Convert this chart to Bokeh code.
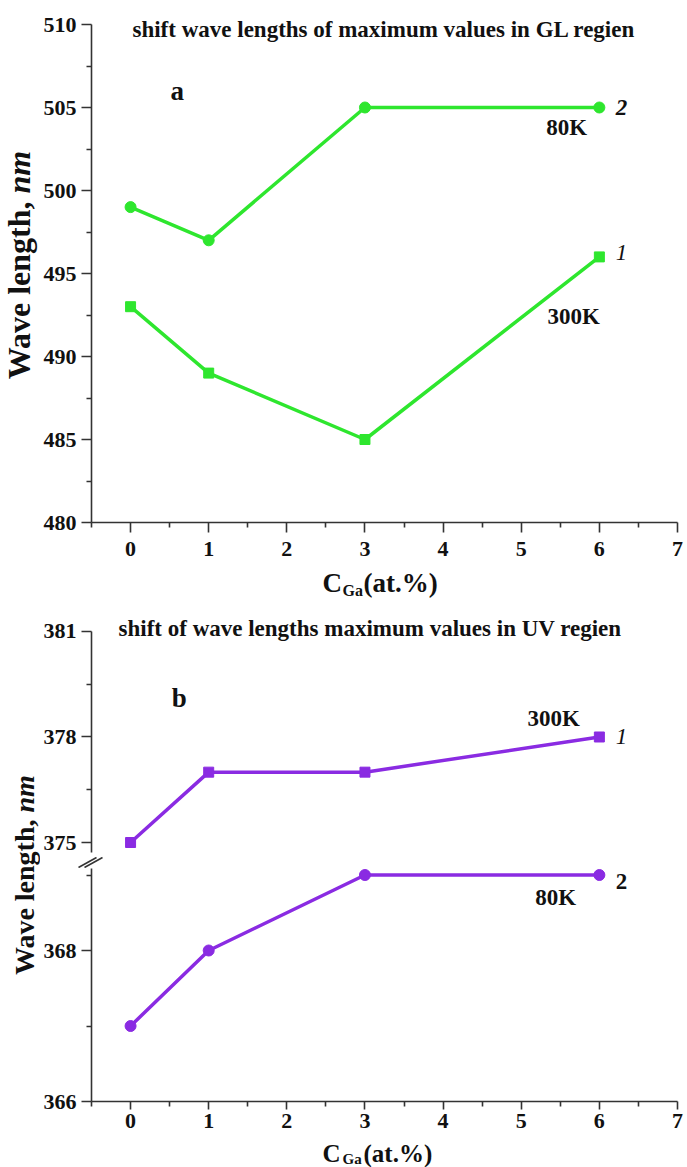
import math
from bokeh.plotting import figure
from bokeh.models import Range1d, FixedTicker, Label
from bokeh.layouts import row, column
from bokeh.embed import file_html
from bokeh.resources import INLINE
from bokeh.core.properties import value

# ---------------- data ----------------
c_ga = [0, 1, 3, 6]
gl_80k = [499, 497, 505, 505]
gl_300k = [493, 489, 485, 496]
uv_300k = [375, 377, 377, 378]
uv_80k = [367, 368, 369, 369]

x_ticks = [0, 1, 2, 3, 4, 5, 6, 7]
x_minor = [-0.5, 0.5, 1.5, 2.5, 3.5, 4.5, 5.5, 6.5]
gl_ticks = [480, 485, 490, 495, 500, 505, 510]
gl_minor = [482.5, 487.5, 492.5, 497.5, 502.5, 507.5]
uv_top_ticks = [375, 378, 381]
uv_top_minor = [376.5, 379.5]
uv_bot_ticks = [366, 368]
uv_bot_minor = [367, 369]

title_a = "shift wave lengths of maximum values in GL regien"
title_b = "shift of wave lengths maximum values in UV regien"

# ---------------- style ----------------
GREEN = "#2ee62e"
PURPLE = "#8a2be2"
AXIS = "#333333"
INK = "#111111"
FONT = "Liberation Serif"
STRIP_W = 40
MAIN_W = 647
FRAME_L = 90       # page x of frame left
FRAME_R = 677      # page x of frame right
X0, X1 = -0.5, 7.0


def style_axis(ax, standoff, tick_out=10):
    ax.axis_line_color = AXIS
    ax.axis_line_width = 1.6
    ax.major_tick_line_color = AXIS
    ax.major_tick_line_width = 1.6
    ax.minor_tick_line_color = AXIS
    ax.minor_tick_line_width = 1.6
    ax.major_tick_out = tick_out
    ax.major_tick_in = 0
    ax.minor_tick_out = 5
    ax.minor_tick_in = 0
    ax.major_label_text_font = FONT
    ax.major_label_text_font_style = "bold"
    ax.major_label_text_font_size = "22px"
    ax.major_label_text_color = INK
    ax.major_label_standoff = standoff


def make_fig(height, bottom, yr, ybounds, with_x, x_standoff=7, x_tick_out=10):
    p = figure(width=MAIN_W, height=height, output_backend="svg", toolbar_location=None,
               x_range=Range1d(X0, X1), y_range=Range1d(*yr),
               x_axis_location="below" if with_x else None,
               min_border_left=FRAME_L - STRIP_W, min_border_right=MAIN_W + STRIP_W - FRAME_R,
               min_border_top=0, min_border_bottom=bottom)
    p.outline_line_color = None
    p.grid.visible = False
    p.background_fill_color = "white"
    p.border_fill_color = "white"
    if with_x:
        p.xaxis.ticker = FixedTicker(ticks=x_ticks, minor_ticks=x_minor)
        style_axis(p.xaxis[0], x_standoff, x_tick_out)
    style_axis(p.yaxis[0], 5)
    p.yaxis.bounds = ybounds
    return p


def blank_fig(height, y_top, y_bot, width=MAIN_W, x_left=STRIP_W):
    p = figure(width=width, height=height, output_backend="svg", toolbar_location=None,
               x_range=Range1d(x_left, x_left + width), y_range=Range1d(y_bot, y_top),
               x_axis_location=None, y_axis_location=None,
               min_border=0, min_border_left=0, min_border_right=0,
               min_border_top=0, min_border_bottom=0)
    p.outline_line_color = None
    p.grid.visible = False
    p.background_fill_color = "white"
    p.border_fill_color = "white"
    return p


def to_data(px, py, meta):
    ftop, fbot, y0, y1 = meta
    x = X0 + (px - FRAME_L) * (X1 - X0) / (FRAME_R - FRAME_L)
    y = y1 - (py - ftop) * (y1 - y0) / (fbot - ftop)
    return x, y


def add_label(p, meta, px, py, text, size, style="bold", align="center", baseline="middle"):
    x, y = to_data(px, py, meta)
    p.add_layout(Label(x=x, y=y, text=text, text_font=FONT, text_font_style=style,
                       text_font_size=f"{size}px", text_color=INK,
                       text_align=align, text_baseline=baseline))


def add_xlabel(p, mid_py, big=27, small=16, sub_dy=8):
    pieces = [(322, 0, "C", big), (342, sub_dy, "Ga", small), (363, 0, "(at.%)", big)]
    for px, dy, txt, size in pieces:
        p.text(x=[px], y=[mid_py + dy], text=[txt], text_align="left",
               text_baseline="middle", text_font=value(FONT), text_font_style="bold",
               text_font_size=f"{size}px", text_color=INK)


# ---------------- panel a ----------------
A_TOP_VAL = 510 + 24 * 30 / 498
meta_a = (0, 522, 480, A_TOP_VAL)
pa = make_fig(566, 44, (480, A_TOP_VAL), (480, 510), True, x_standoff=9)
pa.yaxis.ticker = FixedTicker(ticks=gl_ticks, minor_ticks=gl_minor)
pa.line(c_ga, gl_80k, line_width=3.5, color=GREEN)
pa.scatter(c_ga, gl_80k, marker="circle", size=11, color=GREEN)
pa.line(c_ga, gl_300k, line_width=3.5, color=GREEN)
pa.scatter(c_ga, gl_300k, marker="square", size=10, color=GREEN)
add_label(pa, meta_a, 383, 29, title_a, 23)
add_label(pa, meta_a, 176, 90, "a", 27)
add_label(pa, meta_a, 566, 127, "80K", 23)
add_label(pa, meta_a, 573, 316, "300K", 23)
add_label(pa, meta_a, 621, 107, "2", 23, style="bold italic")
add_label(pa, meta_a, 621, 252, "1", 23, style="italic")

xla = blank_fig(34, 566, 600)
add_xlabel(xla, 582)

# ---------------- panel b (upper part) ----------------
PX_UP = 35.17                      # pixels per nm, upper part
BT_BOT_VAL = 375 - (856 - 842) / PX_UP
BT_AXIS_END = 375 - (852 - 842) / PX_UP
BT_TOP_VAL = 381 + 31 / PX_UP
meta_bt = (600, 856, BT_BOT_VAL, BT_TOP_VAL)
pbt = make_fig(256, 0, (BT_BOT_VAL, BT_TOP_VAL), (BT_AXIS_END, 381), False)
pbt.yaxis.ticker = FixedTicker(ticks=uv_top_ticks, minor_ticks=uv_top_minor)
pbt.line(c_ga, uv_300k, line_width=3.5, color=PURPLE)
pbt.scatter(c_ga, uv_300k, marker="square", size=10, color=PURPLE)
add_label(pbt, meta_bt, 369, 628, title_b, 23)
add_label(pbt, meta_bt, 178, 697, "b", 27)
add_label(pbt, meta_bt, 553, 718, "300K", 23)
add_label(pbt, meta_bt, 621, 736, "1", 23, style="italic")

# ---------------- axis break marks ----------------
pbr = blank_fig(12, 856, 868)
pbr.segment(x0=[78, 84], y0=[867, 867], x1=[96, 102], y1=[857, 857], line_width=1.6, color=AXIS)

# ---------------- panel b (lower part) ----------------
PX_LO = 75.5                       # pixels per nm, lower part
BB_TOP_VAL = 366 + (1101 - 868) / PX_LO
meta_bb = (868, 1101, 366, BB_TOP_VAL)
pbb = make_fig(270, 37, (366, BB_TOP_VAL), (366, BB_TOP_VAL), True, x_standoff=4, x_tick_out=8)
pbb.yaxis.ticker = FixedTicker(ticks=uv_bot_ticks, minor_ticks=uv_bot_minor)
pbb.line(c_ga, uv_80k, line_width=3.5, color=PURPLE)
pbb.scatter(c_ga, uv_80k, marker="circle", size=11, color=PURPLE)
add_label(pbb, meta_bb, 621, 881, "2", 23)
add_label(pbb, meta_bb, 555, 897, "80K", 23)

xlb = blank_fig(29, 1138, 1167)
add_xlabel(xlb, 1152.5, big=25, small=15, sub_dy=6)

# ---------------- y-axis titles strip ----------------
strip = blank_fig(1167, 0, 1167, width=STRIP_W, x_left=0)
for cx, anchor, size in [(18, 193, 32), (24, 812, 28)]:
    strip.text(x=[cx], y=[anchor], text=["Wave length, "], angle=math.pi / 2,
               text_align="right", text_baseline="middle", text_font=value(FONT),
               text_font_style="bold", text_font_size=f"{size}px", text_color=INK)
    strip.text(x=[cx], y=[anchor], text=["nm"], angle=math.pi / 2,
               text_align="left", text_baseline="middle", text_font=value(FONT),
               text_font_style="bold italic", text_font_size=f"{size}px", text_color=INK)

# the thin text/break strips sit in their own rows so they keep full width
layout = row(strip, column(pa, row(xla), pbt, row(pbr), pbb, row(xlb)))
open("out.html", "w").write(file_html(layout, INLINE))
